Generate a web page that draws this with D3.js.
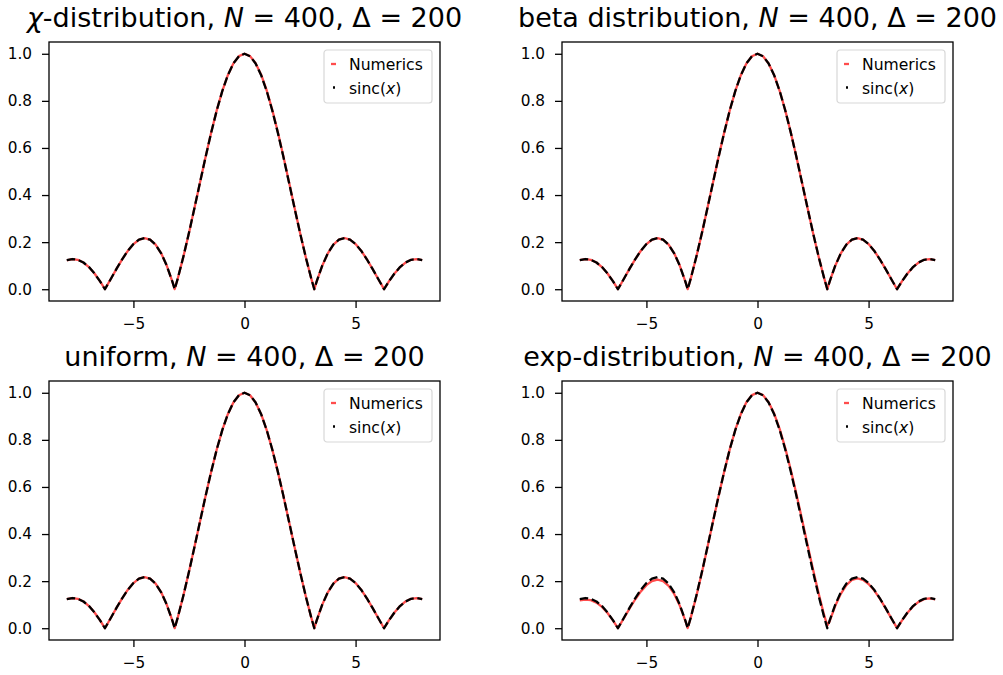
<!DOCTYPE html>
<html>
<head>
<meta charset="utf-8">
<script src="https://cdn.jsdelivr.net/npm/d3@7"></script>
<style>
  html, body { margin: 0; padding: 0; background: #ffffff; }
  svg { display: block; font-family: "DejaVu Sans", sans-serif; }
</style>
</head>
<body>
<svg id="fig" width="1003" height="675"></svg>
<script>
// Sample positions along x (zeros of the sinc function included)
const xs = [
  -8, -7.75, -7.5, -7.25, -7, -6.75, -6.5, -6.2832, -6.25, -6, -5.75, -5.5, -5.25, -5,
  -4.75, -4.5, -4.25, -4, -3.75, -3.5, -3.25, -3.1416, -3, -2.75, -2.5, -2.25, -2,
  -1.75, -1.5, -1.25, -1, -0.75, -0.5, -0.25, 0,
  0.25, 0.5, 0.75, 1, 1.25, 1.5, 1.75, 2, 2.25, 2.5, 2.75, 3, 3.1416, 3.25, 3.5,
  3.75, 4, 4.25, 4.5, 4.75, 5, 5.25, 5.5, 5.75, 6, 6.25, 6.2832, 6.5, 6.75, 7,
  7.25, 7.5, 7.75, 8
];

// |sinc(x)| reference curve
const sincVals = [
  0.1237, 0.1283, 0.1251, 0.1135, 0.0939, 0.0667, 0.0331, 0.0000, 0.0053, 0.0466, 0.0884, 0.1283, 0.1636, 0.1918,
  0.2104, 0.2172, 0.2106, 0.1892, 0.1524, 0.1002, 0.0333, 0.0000, 0.0470, 0.1388, 0.2394, 0.3458, 0.4546,
  0.5623, 0.6650, 0.7592, 0.8415, 0.9089, 0.9589, 0.9896, 1.0000,
  0.9896, 0.9589, 0.9089, 0.8415, 0.7592, 0.6650, 0.5623, 0.4546, 0.3458, 0.2394, 0.1388, 0.0470, 0.0000, 0.0333, 0.1002,
  0.1524, 0.1892, 0.2106, 0.2172, 0.2104, 0.1918, 0.1636, 0.1283, 0.0884, 0.0466, 0.0053, 0.0000, 0.0331, 0.0667, 0.0939,
  0.1135, 0.1251, 0.1283, 0.1237
];

// Numerical estimates for each distribution
const numChi = [
  0.1230, 0.1280, 0.1249, 0.1134, 0.0938, 0.0668, 0.0333, 0.0010, 0.0056, 0.0467, 0.0885, 0.1282, 0.1633, 0.1915,
  0.2101, 0.2170, 0.2105, 0.1892, 0.1525, 0.1004, 0.0336, 0.0008, 0.0468, 0.1386, 0.2392, 0.3457, 0.4546,
  0.5624, 0.6652, 0.7595, 0.8418, 0.9092, 0.9592, 0.9898, 1.0000,
  0.9900, 0.9600, 0.9110, 0.8440, 0.7618, 0.6674, 0.5645, 0.4563, 0.3470, 0.2402, 0.1393, 0.0474, 0.0006, 0.0330, 0.1000,
  0.1523, 0.1893, 0.2108, 0.2175, 0.2106, 0.1919, 0.1637, 0.1284, 0.0884, 0.0467, 0.0055, 0.0006, 0.0330, 0.0665, 0.0937,
  0.1133, 0.1250, 0.1282, 0.1240
];
const numBeta = [
  0.1236, 0.1282, 0.1250, 0.1135, 0.0940, 0.0668, 0.0332, 0.0004, 0.0054, 0.0466, 0.0883, 0.1281, 0.1634, 0.1916,
  0.2102, 0.2171, 0.2106, 0.1893, 0.1526, 0.1004, 0.0335, 0.0004, 0.0469, 0.1387, 0.2393, 0.3458, 0.4547,
  0.5624, 0.6651, 0.7593, 0.8416, 0.9090, 0.9590, 0.9897, 1.0000,
  0.9897, 0.9590, 0.9091, 0.8418, 0.7595, 0.6652, 0.5624, 0.4546, 0.3457, 0.2393, 0.1387, 0.0469, 0.0004, 0.0332, 0.1001,
  0.1523, 0.1891, 0.2105, 0.2171, 0.2103, 0.1917, 0.1635, 0.1282, 0.0883, 0.0466, 0.0054, 0.0004, 0.0332, 0.0667, 0.0938,
  0.1134, 0.1250, 0.1282, 0.1236
];
const numUniform = [
  0.1238, 0.1283, 0.1251, 0.1136, 0.0940, 0.0668, 0.0332, 0.0003, 0.0054, 0.0466, 0.0884, 0.1282, 0.1635, 0.1917,
  0.2103, 0.2172, 0.2106, 0.1892, 0.1524, 0.1003, 0.0334, 0.0003, 0.0470, 0.1388, 0.2394, 0.3458, 0.4546,
  0.5623, 0.6650, 0.7592, 0.8415, 0.9089, 0.9589, 0.9896, 1.0000,
  0.9896, 0.9589, 0.9089, 0.8415, 0.7592, 0.6650, 0.5623, 0.4546, 0.3458, 0.2394, 0.1388, 0.0470, 0.0003, 0.0334, 0.1003,
  0.1524, 0.1892, 0.2106, 0.2172, 0.2103, 0.1917, 0.1635, 0.1282, 0.0884, 0.0466, 0.0054, 0.0003, 0.0332, 0.0668, 0.0940,
  0.1136, 0.1251, 0.1283, 0.1238
];
const numExp = [
  0.1180, 0.1215, 0.1190, 0.1085, 0.0905, 0.0648, 0.0325, 0.0008, 0.0052, 0.0450, 0.0850, 0.1230, 0.1565, 0.1830,
  0.2005, 0.2060, 0.2000, 0.1800, 0.1455, 0.0960, 0.0322, 0.0008, 0.0460, 0.1370, 0.2375, 0.3445, 0.4540,
  0.5620, 0.6650, 0.7595, 0.8420, 0.9095, 0.9595, 0.9900, 1.0000,
  0.9900, 0.9600, 0.9115, 0.8455, 0.7650, 0.6720, 0.5705, 0.4640, 0.3560, 0.2495, 0.1480, 0.0555, 0.0110, 0.0300, 0.0950,
  0.1460, 0.1830, 0.2050, 0.2115, 0.2055, 0.1880, 0.1610, 0.1265, 0.0875, 0.0462, 0.0055, 0.0008, 0.0325, 0.0655, 0.0925,
  0.1120, 0.1235, 0.1265, 0.1225
];

// Panel titles and parameters
const distNames = ["χ-distribution", "beta distribution", "uniform", "exp-distribution"];
const numericsSets = [numChi, numBeta, numUniform, numExp];
const sampleCount = 400;
const deltaValue = 200;

// Tick values and legend labels
const xTickValues = [-5, 0, 5];
const yTickValues = [0.0, 0.2, 0.4, 0.6, 0.8, 1.0];
const legendLabels = ["Numerics", "sinc(x)"];

// Figure layout
const colLeft = [49, 562];
const rowTop = [42, 381];
const axW = 391, axH = 259;
const lineW = 2.3;
const tickFont = 15.3, legendFont = 15.6, titleFont = 27;

const svg = d3.select("#fig");
svg.append("rect").attr("width", 1003).attr("height", 675).attr("fill", "#ffffff");

const redColor = "rgba(255,0,0,0.7)";

distNames.forEach((name, i) => {
  const col = i % 2, row = Math.floor(i / 2);
  const g = svg.append("g").attr("transform", `translate(${colLeft[col]},${rowTop[row]})`);

  // Data limits -8..8 and 0..1 with 5% margins
  const x = d3.scaleLinear().domain([-8.8, 8.8]).range([0, axW]);
  const y = d3.scaleLinear().domain([-0.05, 1.05]).range([axH, 0]);

  const clipId = "clip" + i;
  g.append("clipPath").attr("id", clipId)
    .append("rect").attr("width", axW).attr("height", axH);

  const line = d3.line().x(d => x(d[0])).y(d => y(d[1]));
  const numData = xs.map((v, k) => [v, numericsSets[i][k]]);
  const sincData = xs.map((v, k) => [v, sincVals[k]]);

  const plot = g.append("g").attr("clip-path", `url(#${clipId})`);
  plot.append("path").datum(numData)
    .attr("d", line)
    .attr("fill", "none")
    .attr("stroke", redColor)
    .attr("stroke-width", lineW)
    .attr("stroke-linejoin", "round");
  plot.append("path").datum(sincData)
    .attr("d", line)
    .attr("fill", "none")
    .attr("stroke", "#000000")
    .attr("stroke-width", lineW)
    .attr("stroke-linejoin", "round")
    .attr("stroke-dasharray", `${3.7 * lineW},${1.6 * lineW}`);

  // Axes
  const tickLen = 7, tickPad = 10;
  const xAxis = d3.axisBottom(x).tickValues(xTickValues)
    .tickFormat(d => d3.format("d")(d).replace("-", "−"))
    .tickSize(tickLen).tickPadding(tickPad);
  const yAxis = d3.axisLeft(y).tickValues(yTickValues)
    .tickFormat(d3.format(".1f"))
    .tickSize(tickLen).tickPadding(tickPad);

  const gx = g.append("g").attr("transform", `translate(0,${axH})`).call(xAxis);
  const gy = g.append("g").call(yAxis);
  [gx, gy].forEach(a => {
    a.select(".domain").remove();
    a.selectAll(".tick line").attr("stroke", "#000").attr("stroke-width", 1.3);
    a.selectAll(".tick text").attr("fill", "#000")
      .style("font-family", "'DejaVu Sans', sans-serif")
      .style("font-size", tickFont + "px");
  });

  // Spines
  g.append("rect").attr("width", axW).attr("height", axH)
    .attr("fill", "none").attr("stroke", "#000").attr("stroke-width", 1.3);

  // Title
  const title = g.append("text")
    .attr("x", axW / 2).attr("y", -15)
    .attr("text-anchor", "middle")
    .style("font-size", titleFont + "px")
    .attr("fill", "#000");
  if (name.startsWith("χ")) {
    title.append("tspan").style("font-style", "italic").text("χ");
    title.append("tspan").text(name.slice(1) + ", ");
  } else {
    title.append("tspan").text(name + ", ");
  }
  title.append("tspan").style("font-style", "italic").text("N");
  title.append("tspan").text(` = ${sampleCount}, Δ = ${deltaValue}`);

  // Legend
  const boxW = 108, boxH = 53;
  const lg = g.append("g").attr("transform", `translate(${axW - 8 - boxW},8)`);
  lg.append("rect").attr("x", 0).attr("y", 0).attr("width", boxW).attr("height", boxH)
    .attr("rx", 3).attr("ry", 3)
    .attr("fill", "rgba(255,255,255,0.8)").attr("stroke", "#d8d8d8").attr("stroke-width", 1.2);
  lg.append("line").attr("x1", 7).attr("x2", 12).attr("y1", 14).attr("y2", 14)
    .attr("stroke", redColor).attr("stroke-width", lineW);
  lg.append("line").attr("x1", 9).attr("x2", 11).attr("y1", 37.5).attr("y2", 37.5)
    .attr("stroke", "#000").attr("stroke-width", lineW);
  lg.append("text").attr("x", 25).attr("y", 19.5).style("font-size", legendFont + "px").attr("fill", "#000")
    .text(legendLabels[0]);
  const t2 = lg.append("text").attr("x", 25).attr("y", 43.5).style("font-size", legendFont + "px").attr("fill", "#000");
  t2.append("tspan").text("sinc(");
  t2.append("tspan").style("font-style", "italic").text("x");
  t2.append("tspan").text(")");
});
</script>
</body>
</html>
